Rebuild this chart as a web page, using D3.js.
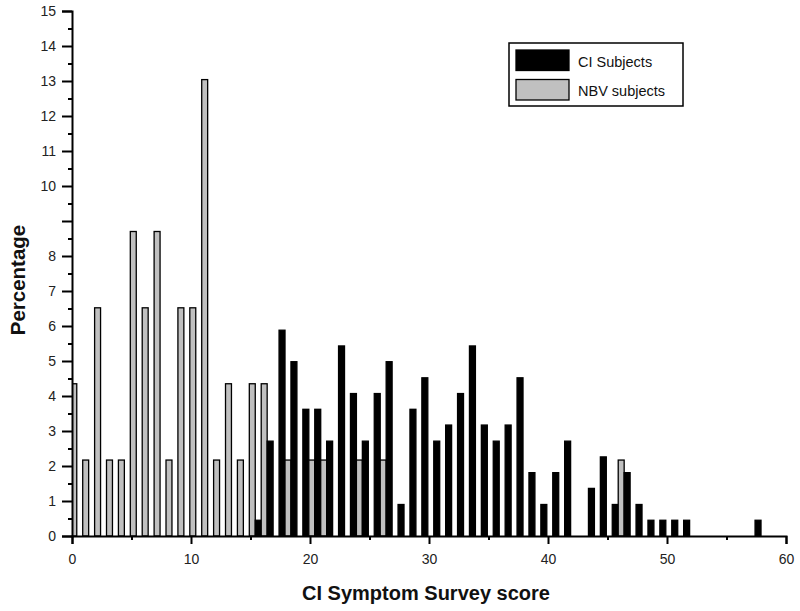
<!DOCTYPE html>
<html>
<head>
<meta charset="utf-8">
<script src="https://cdn.jsdelivr.net/npm/d3@7"></script>
<style>
  body { margin: 0; background: #fff; }
  svg { display: block; font-family: "Liberation Sans", Arial, sans-serif; }
</style>
</head>
<body>
<svg id="chart" width="800" height="611"></svg>
<script>
// ---- Data (percentages by score) ----
const ciScores = [15,16,17,18,19,20,21,22,23,24,25,26,27,28,29,30,31,32,33,34,35,36,37,38,39,40,41,43,44,45,46,47,48,49,50,51,57];
const ciValues = [0.45,2.71,5.88,4.98,3.62,3.62,2.71,5.43,4.07,2.71,4.07,4.98,0.90,3.62,4.52,2.71,3.17,4.07,5.43,3.17,2.71,3.17,4.52,1.81,0.90,1.81,2.71,1.36,2.26,0.90,1.81,0.90,0.45,0.45,0.45,0.45,0.45];
const nbvScores = [0,1,2,3,4,5,6,7,8,9,10,11,12,13,14,15,16,18,20,21,24,26,46];
const nbvValues = [4.35,2.17,6.52,2.17,2.17,8.70,6.52,8.70,2.17,6.52,6.52,13.04,2.17,4.35,2.17,4.35,4.35,2.17,2.17,2.17,2.17,2.17,2.17];
const seriesNames = ["CI Subjects", "NBV subjects"];
const seriesColors = ["#000000", "#c0c0c0"];
const yMajorTicks = [0,1,2,3,4,5,6,7,8,9,10,11,12,13,14,15];
const yTickLabels = ["0","1","2","3","4","5","6","7","8","","10","11","12","13","14","15"];
const yMinorTicks = d3.range(0.5, 15, 1);
const xMajorTicks = [0,10,20,30,40,50,60];
const xMinorTicks = [5,15,25,35,45,55];
const xTitle = "CI Symptom Survey score";
const yTitle = "Percentage";

const svg = d3.select("#chart");
const x = d3.scaleLinear().domain([0, 60]).range([72, 786]);
const y = d3.scaleLinear().domain([0, 15]).range([536, 11]);

// clip so the first bar doesn't cross the y axis
svg.append("defs").append("clipPath").attr("id", "plot")
  .append("rect").attr("x", x(0)).attr("y", 0).attr("width", x(60) - x(0) + 10).attr("height", y(0));

const barW = x(0.5) - x(0);
const bars = svg.append("g").attr("clip-path", "url(#plot)");

// Build combined list, drawing gray then black for each score
const items = [];
nbvScores.forEach((s, i) => items.push({ s, v: nbvValues[i], k: 1, off: 0.15 }));
ciScores.forEach((s, i) => items.push({ s, v: ciValues[i], k: 0, off: 0.65 }));
items.sort((a, b) => (a.s + a.off) - (b.s + b.off));

bars.selectAll("rect.bar").data(items).join("rect")
  .attr("class", "bar")
  .attr("x", d => x(d.s + d.off) - barW / 2)
  .attr("width", barW)
  .attr("y", d => y(d.v))
  .attr("height", d => y(0) - y(d.v))
  .attr("fill", d => seriesColors[d.k])
  .attr("stroke", "#000")
  .attr("stroke-width", 1.3);

// Y axis
const yAxis = svg.append("g").attr("transform", `translate(${x(0)},0)`);
yAxis.call(d3.axisLeft(y).tickValues(yMajorTicks).tickSize(10).tickPadding(6)
  .tickFormat((d, i) => yTickLabels[i]));
const yMinor = svg.append("g").attr("transform", `translate(${x(0)},0)`);
yMinor.call(d3.axisLeft(y).tickValues(yMinorTicks).tickSize(4).tickFormat(""));
yMinor.select(".domain").remove();

// X axis
const xAxis = svg.append("g").attr("transform", `translate(0,${y(0)})`);
xAxis.call(d3.axisBottom(x).tickValues(xMajorTicks).tickSize(8).tickPadding(10).tickFormat(d3.format("d")));
const xMinor = svg.append("g").attr("transform", `translate(0,${y(0)})`);
xMinor.call(d3.axisBottom(x).tickValues(xMinorTicks).tickSize(4).tickFormat(""));
xMinor.select(".domain").remove();

svg.selectAll(".domain").attr("stroke", "#000").attr("stroke-width", 2);
svg.selectAll(".tick line").attr("stroke", "#000").attr("stroke-width", 2);
svg.selectAll(".tick text").attr("font-size", 14).attr("fill", "#222")
  .attr("font-family", "Liberation Sans, Arial, sans-serif");

// Titles
svg.append("text").attr("x", 426).attr("y", 600).attr("text-anchor", "middle")
  .attr("font-size", 20).attr("font-weight", "bold").attr("fill", "#111").text(xTitle);
svg.append("text").attr("transform", "translate(25,280) rotate(-90)").attr("text-anchor", "middle")
  .attr("font-size", 20.5).attr("font-weight", "bold").attr("fill", "#111").text(yTitle);

// Legend
const lg = svg.append("g");
lg.append("rect").attr("x", 509).attr("y", 43).attr("width", 174).attr("height", 63)
  .attr("fill", "#fff").attr("stroke", "#000").attr("stroke-width", 1.5);
seriesNames.forEach((name, i) => {
  lg.append("rect").attr("x", 516).attr("y", 50 + i * 29.5).attr("width", 53).attr("height", 20.5)
    .attr("fill", seriesColors[i]).attr("stroke", "#000").attr("stroke-width", 1.3);
  lg.append("text").attr("x", 578).attr("y", 66.5 + i * 29).attr("font-size", 14.5).attr("fill", "#111").text(name);
});
</script>
</body>
</html>
